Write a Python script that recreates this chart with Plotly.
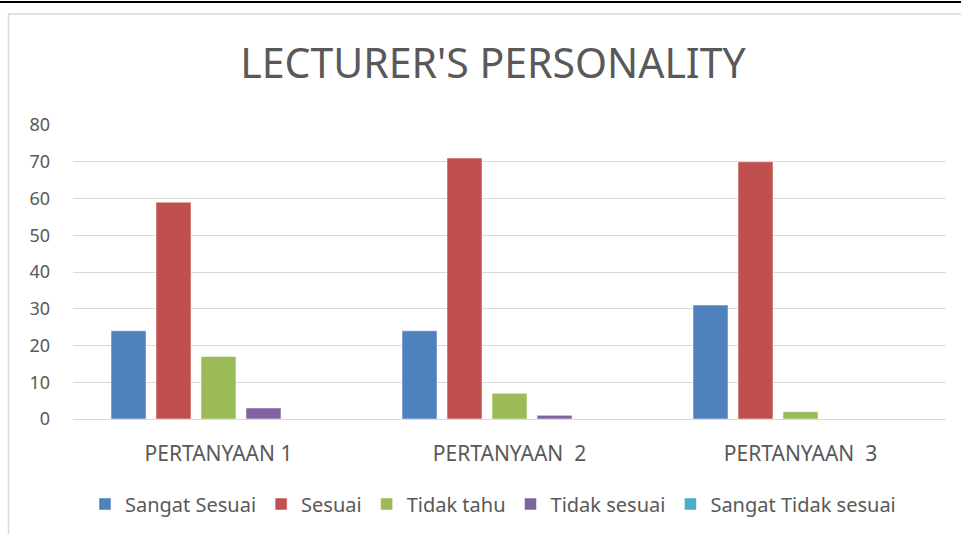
import plotly.graph_objects as go

categories = ["PERTANYAAN 1", "PERTANYAAN  2", "PERTANYAAN  3"]
series_names = ["Sangat Sesuai", "Sesuai", "Tidak tahu", "Tidak sesuai", "Sangat Tidak sesuai"]
sangat_sesuai = [24, 24, 31]
sesuai = [59, 71, 70]
tidak_tahu = [17, 7, 2]
tidak_sesuai = [3, 1, 0]
sangat_tidak_sesuai = [0, 0, 0]
y_ticks = [0, 10, 20, 30, 40, 50, 60, 70, 80]

values = [sangat_sesuai, sesuai, tidak_tahu, tidak_sesuai, sangat_tidak_sesuai]
colors = ["#4F81BD", "#C0504D", "#9BBB59", "#8064A2", "#4BACC6"]

FONT = "Noto Sans"
TXT = "#595959"

fig = go.Figure()
for name, vals, col in zip(series_names, values, colors):
    fig.add_trace(go.Bar(
        x=categories, y=vals, name=name,
        marker=dict(color=col, line=dict(color="rgba(255,255,255,0.5)", width=1)),
    ))

W, H = 961, 534
L, R, T, B = 73, 15, 125, 114
pw = W - L - R
ph = H - T - B

def px(x):
    return (x - L) / pw

def py(y):
    return (H - B - y) / ph

fig.update_layout(
    width=W, height=H,
    margin=dict(l=L, r=R, t=T, b=B),
    paper_bgcolor="white", plot_bgcolor="white",
    barmode="group", bargap=0.227, bargroupgap=0.222,
    title=dict(text="LECTURER'S PERSONALITY", x=493 / W, xanchor="center",
               y=1 - 64 / H, yanchor="middle",
               font=dict(family=FONT, size=41, color=TXT)),
    font=dict(family=FONT, color=TXT),
    showlegend=True,
    legend=dict(orientation="h", x=px(493), xanchor="center", y=py(504), yanchor="middle",
                font=dict(family=FONT, size=20, color=TXT), itemwidth=30,
                traceorder="normal"),
    xaxis=dict(showgrid=False, showline=False, ticks="", ticklabelstandoff=20,
               tickfont=dict(family=FONT, size=21, color=TXT)),
    yaxis=dict(range=[0, 80], tickvals=y_ticks, showgrid=True, gridcolor="#D9D9D9", gridwidth=1.3,
               zeroline=True, zerolinecolor="#D9D9D9", zerolinewidth=1.3,
               showline=False, ticks="", ticklabelstandoff=22,
               tickfont=dict(family=FONT, size=18, color=TXT)),
    shapes=[
        dict(type="rect", xref="paper", yref="paper", x0=px(8.5), x1=px(1000), y0=py(600), y1=py(13.5),
             line=dict(color="#D9D9D9", width=1.5), fillcolor="rgba(0,0,0,0)", layer="below"),
        dict(type="line", xref="paper", yref="paper", x0=px(-10), x1=px(1000), y0=py(1.5), y1=py(1.5),
             line=dict(color="black", width=2)),
    ],
)

fig.write_html("out.html", config={"displayModeBar": False},
               post_script="document.body.style.margin='0';document.body.style.overflow='hidden';")
